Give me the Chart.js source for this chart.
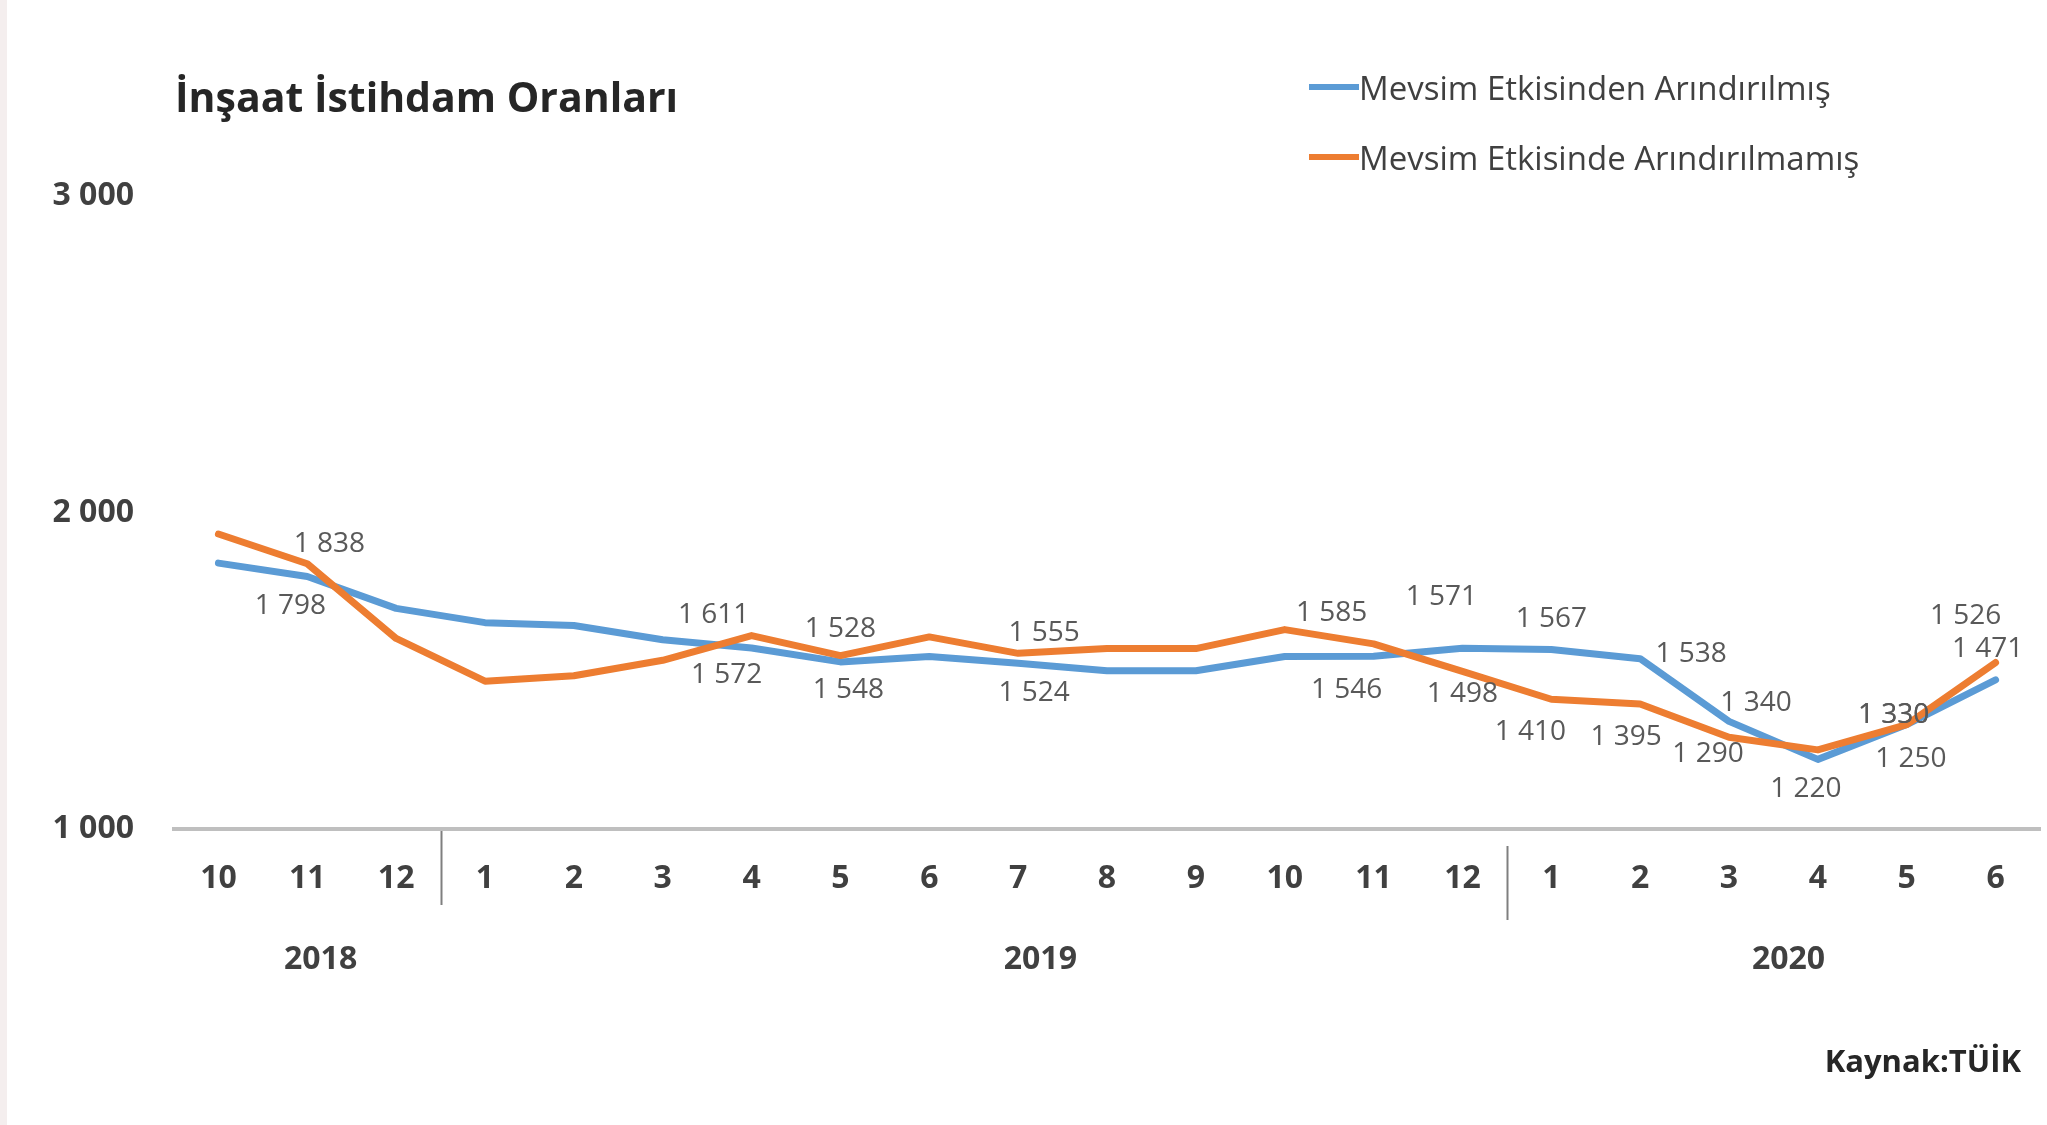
<!DOCTYPE html>
<html lang="tr">
<head>
<meta charset="utf-8">
<title>İnşaat İstihdam Oranları</title>
<script src="https://cdn.jsdelivr.net/npm/chart.js@4.4.1/dist/chart.umd.min.js"></script>
<style>
  html, body { margin: 0; padding: 0; background: #fff; }
  #wrap { position: relative; width: 2047px; height: 1125px; overflow: hidden; font-family: 'Open Sans', sans-serif; }
  #edge { position: absolute; left: 0; top: 0; width: 7px; height: 1125px; background: #f4eeee; }
  canvas { position: absolute; left: 0; top: 0; }
  .title { position: absolute; left: 175px; top: 76px; font-size: 41px; line-height: 1; font-weight: 700; color: #262626; }
  .legend { position: absolute; left: 1309px; top: 66px; font-size: 33px; color: #404040; }
  .legend div { display: flex; align-items: center; height: 42px; margin-bottom: 28px; white-space: nowrap; }
  .legend i { display: inline-block; width: 50px; height: 6px; }
  .src { position: absolute; right: 26px; top: 1045px; font-size: 31px; line-height: 1; font-weight: 700; color: #262626; }
</style>
</head>
<body>
<div id="wrap">
  <div id="edge"></div>
  <canvas id="chart" width="2047" height="1125"></canvas>
  <div class="title">İnşaat İstihdam Oranları</div>
  <div class="legend">
    <div><i style="background:#5b9bd5"></i>Mevsim Etkisinden Arındırılmış</div>
    <div><i style="background:#ed7d31"></i>Mevsim Etkisinde Arındırılmamış</div>
  </div>
  <div class="src">Kaynak:TÜİK</div>
</div>
<script>
'use strict';

// ── Data ────────────────────────────────────────────────────────────
const months = ['10','11','12','1','2','3','4','5','6','7','8','9','10','11','12','1','2','3','4','5','6'];
const years = ['2018', '2019', '2020'];
const yearStart = [0, 3, 15];   // index of first month of each year
const adjusted   = [1840,1798,1697,1652,1643,1598,1572,1528,1545,1524,1500,1500,1545,1546,1571,1567,1538,1340,1220,1330,1471];
const unadjusted = [1932,1838,1602,1467,1484,1533,1611,1548,1607,1555,1570,1570,1630,1585,1498,1410,1395,1290,1250,1330,1526];
const yTicks = [1000, 2000, 3000];

// where the value labels sit relative to their point (only points labelled in the source)
const blueLabelPos = { 1:[-17,30], 6:[-25,27], 7:[0,-33], 9:[16,30], 13:[-27,34], 14:[-21,-51],
                       15:[0,-31], 16:[51,-5], 17:[27,-18], 18:[-12,30], 19:[-13,-10], 20:[-8,-31] };
const orangeLabelPos = { 1:[22,-20], 6:[-38,-21], 7:[8,34], 9:[26,-20], 13:[-42,-31], 14:[0,23],
                         15:[-21,33], 16:[-14,33], 17:[-21,17], 18:[93,9], 19:[-13,-10], 20:[-30,-46] };

const fmt = v => String(v).replace(/\B(?=(\d{3})+(?!\d))/g, ' ');
const TXT = '#404040';

Chart.defaults.font.family = '"Open Sans", sans-serif';

// ── Plugins ─────────────────────────────────────────────────────────
const valueLabels = {
  id: 'valueLabels',
  afterDatasetsDraw(chart) {
    const ctx = chart.ctx;
    ctx.save();
    ctx.font = '28px "Open Sans"';
    ctx.fillStyle = '#595959';
    ctx.textAlign = 'center';
    ctx.textBaseline = 'middle';
    chart.data.datasets.forEach((ds, di) => {
      const meta = chart.getDatasetMeta(di);
      meta.data.forEach((pt, i) => {
        const o = ds.labelPos[i];
        if (o) ctx.fillText(fmt(ds.data[i]), pt.x + o[0], pt.y + o[1]);
      });
    });
    ctx.restore();
  }
};

const yearAxis = {
  id: 'yearAxis',
  afterDraw(chart) {
    const x = chart.scales.x, ctx = chart.ctx, b = chart.chartArea.bottom;
    const anchor = [1.15, 9.25, 17.67];
    ctx.save();
    ctx.font = 'bold 32px "Open Sans"';
    ctx.fillStyle = TXT;
    ctx.textAlign = 'center';
    ctx.textBaseline = 'middle';
    years.forEach((y, k) => ctx.fillText(y, x.getPixelForValue(anchor[k]), b + 131));
    // separators between years
    ctx.strokeStyle = '#7f7f7f';
    ctx.lineWidth = 2;
    [[1, 2, 76], [2, 17, 91]].forEach(([k, y0, y1]) => {
      const px = Math.round(x.getPixelForValue(yearStart[k] - 0.5)) + 0.5;
      ctx.beginPath(); ctx.moveTo(px, b + y0); ctx.lineTo(px, b + y1); ctx.stroke();
    });
    ctx.restore();
  }
};

// ── Chart ───────────────────────────────────────────────────────────
new Chart(document.getElementById('chart').getContext('2d'), {
  type: 'line',
  data: {
    labels: months,
    datasets: [
      { label: 'Mevsim Etkisinden Arındırılmış', data: adjusted, labelPos: blueLabelPos,
        borderColor: '#5b9bd5', borderWidth: 7, pointRadius: 0, tension: 0, order: 2,
        borderCapStyle: 'round', borderJoinStyle: 'round' },
      { label: 'Mevsim Etkisinde Arındırılmamış', data: unadjusted, labelPos: orangeLabelPos,
        borderColor: '#ed7d31', borderWidth: 7, pointRadius: 0, tension: 0, order: 1,
        borderCapStyle: 'round', borderJoinStyle: 'round' }
    ]
  },
  options: {
    responsive: false, animation: false,
    layout: { padding: { top: 196, left: 0, right: 7, bottom: 146 } },
    scales: {
      x: {
        offset: true,
        grid: { display: false, drawTicks: false },
        border: { display: true, color: '#bfbfbf', width: 4 },
        ticks: { font: { size: 32, weight: 'bold' }, color: TXT, padding: 31, maxRotation: 0, autoSkip: false },
        afterFit: s => { s.height = 150; }
      },
      y: {
        min: yTicks[0], max: yTicks[yTicks.length - 1],
        grid: { display: false, drawTicks: false },
        border: { display: false },
        afterBuildTicks: s => { s.ticks = yTicks.map(v => ({ value: v })); },
        ticks: { font: { size: 32, weight: 'bold' }, color: TXT, padding: 40, callback: v => fmt(v) },
        afterFit: s => { s.width = 174; }
      }
    },
    plugins: { legend: { display: false }, tooltip: { enabled: false } }
  },
  plugins: [valueLabels, yearAxis]
});
</script>
</body>
</html>
